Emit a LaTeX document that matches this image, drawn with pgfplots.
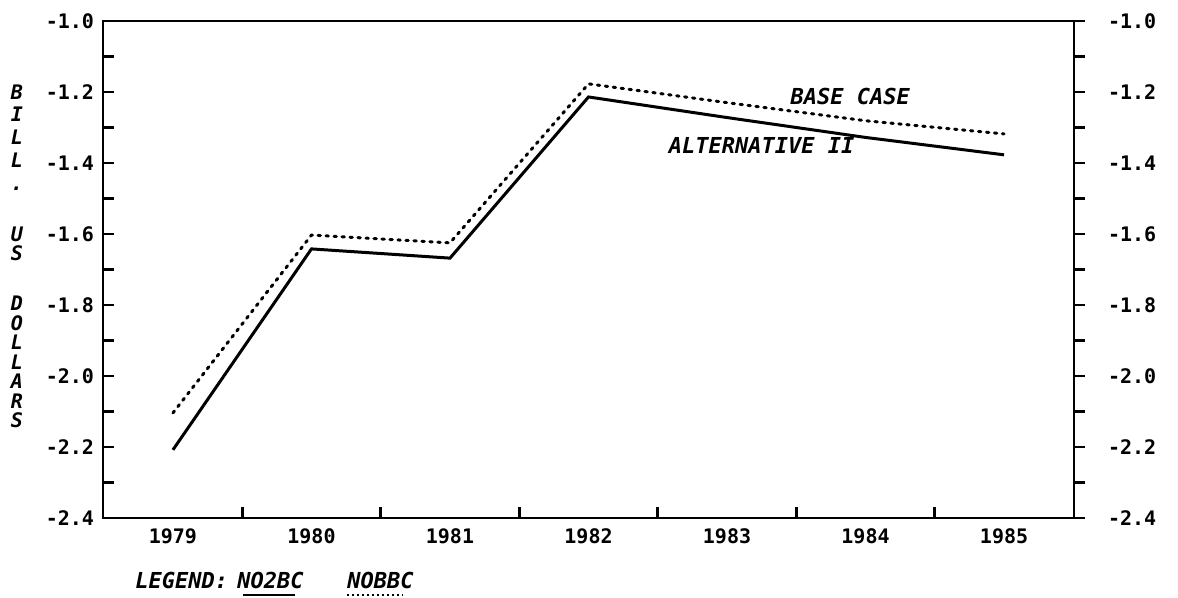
\documentclass[border=0pt]{standalone}
\usepackage{pgfplots}
\pgfplotsset{compat=1.18}
\usepackage{fontspec}
\newfontfamily\tickfont{DejaVu Sans Mono}
\newfontfamily\labfont{DejaVu Sans Mono}
\newcommand{\lab}{\labfont\fontsize{11pt}{13pt}\selectfont\bfseries\itshape}
\newcommand{\labs}{\labfont\fontsize{10pt}{12pt}\selectfont\bfseries\itshape}
\newcommand{\tk}{\tickfont\fontsize{10pt}{12pt}\selectfont\bfseries}

\pgfplotstableread{
year val
1979 -2.208
1980 -1.642
1981 -1.668
1982 -1.214
1983 -1.272
1984 -1.328
1985 -1.377
}\alttwo
\pgfplotstableread{
year val
1979 -2.104
1980 -1.603
1981 -1.625
1982 -1.177
1983 -1.230
1984 -1.281
1985 -1.318
}\basecase

\begin{document}
\begin{tikzpicture}
\pgfplotsset{
  common/.style={
    scale only axis, width=485.5pt, height=248.5pt,
    xmin=1978.495, xmax=1985.505, ymin=-2.4, ymax=-1.0,
    axis line style={line width=1.4pt},
    every tick/.style={line width=1.4pt, black},
    major tick length=5.5pt, minor tick length=5.5pt,
    ytick={-2.4,-2.2,-2.0,-1.8,-1.6,-1.4,-1.2,-1.0},
    yticklabels={-2.4,-2.2,-2.0,-1.8,-1.6,-1.4,-1.2,-1.0},
    minor y tick num=1,
    ticklabel style={font=\tk},
  }
}
\begin{axis}[common, name=main, clip=false,
  tick align=inside,
  ytick pos=left,
  xtick pos=bottom,
  xtick={1979.5,1980.5,1981.5,1982.5,1983.5,1984.5},
  xticklabels={},
  extra x ticks={1979,1980,1981,1982,1983,1984,1985},
  extra x tick labels={1979,1980,1981,1982,1983,1984,1985},
  extra x tick style={major tick length=0pt, xticklabel style={yshift=-2pt}},
  yticklabel style={xshift=-1pt},
]
\addplot[black, line width=1.5pt] table[x=year, y=val] {\alttwo};
\addplot[black, line width=1.5pt, dash pattern=on 1.2pt off 2.8pt, line cap=round] table[x=year, y=val] {\basecase};
\node[font=\lab] at (axis cs:1983.89,-1.214) {BASE CASE};
\node[font=\lab] at (axis cs:1983.25,-1.352) {ALTERNATIVE II};
\end{axis}
\begin{axis}[common,
  axis y line*=right, axis x line=none,
  tick align=outside,
  yticklabel style={xshift=8pt},
]
\end{axis}
% vertical stacked axis title
\foreach \ch/\yy in {B/-1.200, I/-1.262, L/-1.327, L/-1.392, ./-1.459, U/-1.600, S/-1.656, D/-1.796, O/-1.851, L/-1.906, L/-1.961, A/-2.016, R/-2.071, S/-2.126}{
  \path (main.south west) ++(-43pt, {(\yy+2.4)/1.4*248.5pt}) node[font=\labs, inner sep=0pt, text height=7pt, text depth=0pt, anchor=center] {\ch};
}
% legend
\path (main.south west) ++(16pt,-31pt) node[anchor=west, font=\lab, inner sep=0pt] {LEGEND:};
\path (main.south west) ++(67pt,-31pt) node[anchor=west, font=\lab, inner sep=0pt] {NO2BC};
\path (main.south west) ++(122pt,-31pt) node[anchor=west, font=\lab, inner sep=0pt] {NOBBC};
\draw[line width=1.3pt] ([shift={(70pt,-38.5pt)}]main.south west) -- ([shift={(96pt,-38.5pt)}]main.south west);
\draw[line width=1.3pt, dash pattern=on 1pt off 1.5pt] ([shift={(122pt,-38.5pt)}]main.south west) -- ([shift={(150pt,-38.5pt)}]main.south west);
\pgfresetboundingbox
\path[use as bounding box] ([shift={(-51.5pt,-40pt)}]main.south west) rectangle ([shift={(52pt,10.5pt)}]main.north east);
\end{tikzpicture}
\end{document}
